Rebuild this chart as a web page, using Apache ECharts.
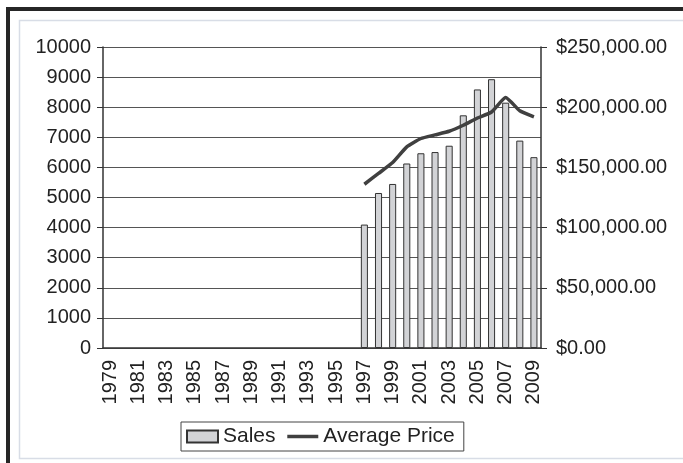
<!DOCTYPE html>
<html>
<head>
<meta charset="utf-8">
<script src="https://cdn.jsdelivr.net/npm/echarts@6/dist/echarts.min.js"></script>
<style>
  html, body { margin: 0; padding: 0; background: #fff; }
  #chart { width: 683px; height: 463px; }
</style>
</head>
<body>
<div id="chart"></div>
<script>
// years on the category axis
var years = [];
for (var y = 1979; y <= 2009; y++) years.push(String(y));

// sales count (left axis), only from 1997
var sales = [
  null, null, null, null, null, null, null, null, null,
  null, null, null, null, null, null, null, null, null,
  4100, 5150, 5450, 6130, 6470, 6510, 6720, 7730, 8590, 8930, 8150, 6890, 6340
];

// average price (right axis)
var avgPrice = [
  null, null, null, null, null, null, null, null, null,
  null, null, null, null, null, null, null, null, null,
  136000, 145000, 154000, 167000, 174000, 177000, 180000, 185000, 191000, 196000, 208000, 197000, 192000
];

var salesTicks = [0, 10000, 1000];
var priceTicks = [0, 250000, 50000];

var chart = echarts.init(document.getElementById("chart"));

var axisColor = "#333";
var font = "Liberation Sans, Arial, sans-serif";

chart.setOption({
  animation: false,
  textStyle: { fontFamily: font },
  graphic: [
    // outer dark frame (top + left)
    { type: "rect", shape: { x: 8, y: 9, width: 700, height: 470 },
      style: { fill: "none", stroke: "#262626", lineWidth: 4 }, z: -1 },
    // inner light frame
    { type: "rect", shape: { x: 19.5, y: 20.5, width: 690, height: 438 },
      style: { fill: "none", stroke: "#d8dde6", lineWidth: 1.5 }, z: -1 }
  ],
  grid: { left: 103, right: 142, top: 47, bottom: 115 },
  legend: {
    left: 181,
    top: 422,
    padding: [4, 9, 4, 5],
    itemGap: 10,
    itemWidth: 31,
    itemHeight: 12,
    borderColor: "#444",
    borderWidth: 1,
    textStyle: { fontSize: 21, color: "#222", fontFamily: font },
    data: [
      { name: "Sales", icon: "rect" },
      { name: "Average Price", itemStyle: { color: "transparent", borderWidth: 0 },
        lineStyle: { width: 3.5, color: "#404040" } }
    ]
  },
  xAxis: {
    type: "category",
    data: years,
    axisLine: { lineStyle: { color: axisColor, width: 1.5 } },
    axisTick: { length: 6, lineStyle: { color: axisColor } },
    axisLabel: { rotate: 90, interval: 1, fontSize: 20, color: "#222", margin: 12 }
  },
  yAxis: [
    {
      type: "value",
      min: salesTicks[0], max: salesTicks[1], interval: salesTicks[2],
      axisLine: { show: true, lineStyle: { color: axisColor, width: 1.5 } },
      axisTick: { show: true, length: 6, lineStyle: { color: axisColor } },
      axisLabel: { fontSize: 20, color: "#222", margin: 12, formatter: function (v) { return String(v); } },
      splitLine: { lineStyle: { color: "#555", width: 1 } }
    },
    {
      type: "value",
      min: priceTicks[0], max: priceTicks[1], interval: priceTicks[2],
      axisLine: { show: true, lineStyle: { color: axisColor, width: 1.5 } },
      axisTick: { show: true, length: 6, lineStyle: { color: axisColor } },
      axisLabel: {
        fontSize: 20, color: "#222", margin: 15,
        formatter: function (v) {
          return "$" + v.toLocaleString("en-US", { minimumFractionDigits: 2, maximumFractionDigits: 2 });
        }
      },
      splitLine: { show: false }
    }
  ],
  series: [
    {
      name: "Sales",
      type: "bar",
      data: sales,
      barWidth: "50%",
      itemStyle: { color: "#d2d3d6", borderColor: "#333", borderWidth: 1 }
    },
    {
      name: "Average Price",
      type: "line",
      yAxisIndex: 1,
      data: avgPrice,
      smooth: 0.15,
      symbol: "none",
      lineStyle: { color: "#404040", width: 3.5 },
      itemStyle: { color: "#404040" }
    }
  ]
});
</script>
</body>
</html>
